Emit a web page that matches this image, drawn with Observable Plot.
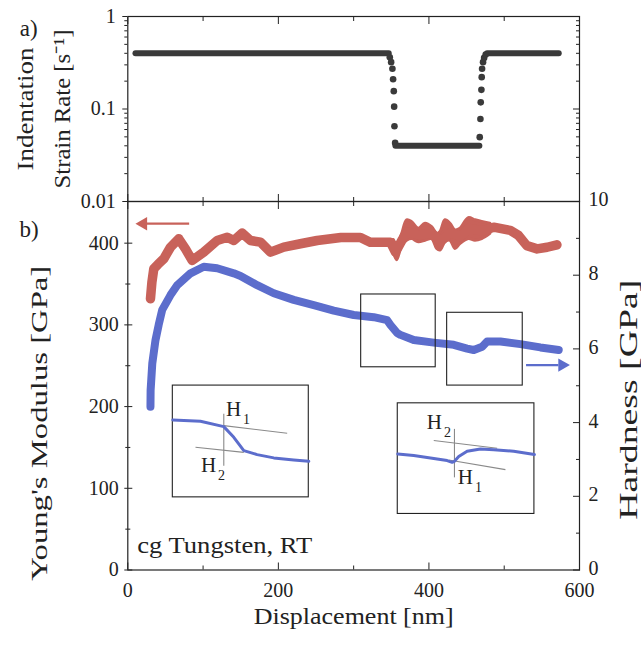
<!DOCTYPE html>
<html><head><meta charset="utf-8">
<script src="https://cdn.jsdelivr.net/npm/d3@7"></script>
<script src="https://cdn.jsdelivr.net/npm/@observablehq/plot@0.6"></script>
<style>
body{margin:0;background:#fff;}
#wrap{position:relative;width:641px;height:646px;overflow:hidden;background:#fff;}
#wrap > svg{position:absolute;left:0;}
</style></head><body><div id="wrap"></div>
<script>
// ---------- Panel a) indentation strain rate ----------
const rateMajor = [0.01, 0.1, 1];
const rateMinor = [0.02,0.03,0.04,0.05,0.06,0.07,0.08,0.09,0.2,0.3,0.4,0.5,0.6,0.7,0.8,0.9];
const xMajor = [0, 200, 400, 600];
const xMinor = [100, 300, 500];
const ratePlateaus = [
  {seg: "high1", x: 10.2, rate: 0.40}, {seg: "high1", x: 346.6, rate: 0.40},
  {seg: "low",   x: 355.5, rate: 0.040}, {seg: "low",  x: 467.0, rate: 0.040},
  {seg: "high2", x: 477.3, rate: 0.40}, {seg: "high2", x: 572.4, rate: 0.40}
];
const dropX = [348.0, 349.8, 351.5, 352.4, 353.3, 353.8, 354.2, 355.1];
const dropRate = [0.363, 0.321, 0.272, 0.210, 0.156, 0.106, 0.065, 0.043];
const riseX = [467.5, 468.4, 468.8, 469.7, 470.1, 470.6, 471.9, 473.3, 475.4];
const riseRate = [0.0496, 0.078, 0.118, 0.161, 0.221, 0.272, 0.321, 0.357, 0.388];

// ---------- Panel b) Young's modulus (left) and hardness (right) ----------
const modTicks = [0, 100, 200, 300, 400];
const modMinor = [50, 150, 250, 350];
const hardTicks = [0, 2, 4, 6, 8, 10];
const hardMinor = [1, 3, 5, 7, 9];
const modX = [30.1,32,34.5,40,47.8,56.7,67.7,76.6,85.5,100.9,118.7,132,140.8,151.9,162.9,176.2,189.5,207.2,229.3,251.5,283,309,322,349,355.5,364.4,371,386.5,404.2,415.3,428.6,441.8,452.9,470.7,486,508,519,530,543.7,557,570];
const modE = [331.9,352,368.6,374,380.9,395,405.4,393,378.8,389,403.3,407.3,403.3,412.3,403.3,401.2,389,395.1,399.3,403.3,407,407,401,401,389,404,414,410,412,402,413,408,418,415,419.6,415.6,409.5,397,393,395,398];
// scatter envelope of the modulus band where it is noisy
const noiseX = [353.3,357.8,364.4,371,377.7,386.5,395.4,404.2,410.9,415.3,421.9,428.6,435.2,441.8,452.9,461.8,470.7,481.7];
const noiseLow = [389,379,397,403,405,401,403,405,393,391,401,403,393,399,405,403,405,411.4];
const noiseHigh = [404,399,411,428,425.7,417.6,423.8,419.6,411.4,413.5,428,423.8,415.6,417.6,430.7,428,425.9,423.8];
const hardX = [30.1,30.3,32.5,36.8,41,45.7,56.7,65.6,83.3,100.9,118.7,140.8,149.7,171.8,193.9,220.4,247.0,273.6,300.1,326.7,344.5,348.9,357.8,362.2,379.8,406.4,433.0,450.7,459.6,470.7,477.3,495.0,521.6,548.1,572.4];
const hardH = [4.43,4.88,5.6,6.24,6.65,7.06,7.46,7.73,8.05,8.23,8.19,8.05,7.98,7.73,7.51,7.33,7.19,7.04,6.92,6.86,6.78,6.65,6.43,6.38,6.24,6.17,6.11,6.01,5.97,6.06,6.20,6.20,6.13,6.04,5.97];
const hardMax = 10, modMax = 451; // right axis 0–10 GPa shares the frame with left axis 0–451 GPa
const zoomBoxes = [{x1: 310, x2: 409, y1: 248.1, y2: 337.2}, {x1: 424.2, x2: 524.6, y1: 225.7, y2: 314.8}];
const insetBoxes = [{x1: 59.8, x2: 240.4, y1: 88.9, y2: 225.7}, {x1: 358.6, x2: 540.1, y1: 68.6, y2: 204.0}];
const inset1X = [59.8, 96.5, 127.5, 140.8, 154.1, 171.8, 193.9, 220.4, 240.4];
const inset1E = [183.7, 182.0, 175.5, 162.4, 146.1, 141.2, 137.2, 134.7, 133.0];
const inset2X = [358.6, 379.8, 402.0, 424.2, 430.8, 433.9, 439.6, 450.7, 468.4, 486.1, 512.6, 540.1];
const inset2E = [142.1, 140.0, 137.2, 133.9, 131.8, 133.0, 138.8, 145.3, 148.2, 147.3, 145.3, 141.3];
const insetGuides = [
  {x1: 127.5, y1: 176.7, x2: 211.7, y2: 167.3}, {x1: 89.9, y1: 150.2, x2: 154.1, y2: 144.0}, {x1: 127.5, y1: 191.3, x2: 127.5, y2: 127.7},
  {x1: 406.4, y1: 158.5, x2: 490.6, y2: 149.0}, {x1: 426.3, y1: 134.7, x2: 501.6, y2: 122.8}, {x1: 433.9, y1: 172.7, x2: 433.9, y2: 113.4}
];
const hLabels = [{x: 140.4, y: 196.3, sub: "1"}, {x: 107.2, y: 127.7, sub: "2"}, {x: 407.3, y: 180.8, sub: "2"}, {x: 448.5, y: 113.4, sub: "1"}];
const modArrow = [{x1: 81.5, x2: 24, e: 423.8, head: 20.5}];
const hardArrow = [{x1: 529, x2: 572, h: 5.56, head: 577}];

const ink = "#222", dark = "#3a3a3a", red = "#c8625a", blue = "#5c6dcc";
const serif = "'Liberation Serif', 'Times New Roman', serif";
const baseStyle = {fontFamily: serif, fontSize: "20px", background: "transparent", color: ink, overflow: "visible"};
const noLab = () => "";

const drops = dropX.map((x, i) => ({x, rate: dropRate[i]})).concat(riseX.map((x, i) => ({x, rate: riseRate[i]})));
const modData = modX.map((x, i) => ({x, e: modE[i]}));
const noiseData = noiseX.map((x, i) => ({x, lo: noiseLow[i], hi: noiseHigh[i]}));
const hardData = hardX.map((x, i) => ({x, h: hardH[i]}));
const k = modMax / hardMax;
const in1 = inset1X.map((x, i) => ({x, e: inset1E[i]}));
const in2 = inset2X.map((x, i) => ({x, e: inset2E[i]}));

const topSvg = Plot.plot({
  width: 641, height: 215,
  marginLeft: 127.3, marginRight: 62, marginTop: 16, marginBottom: 14,
  style: baseStyle,
  x: {domain: [0, 600]},
  y: {type: "log", domain: [0.01, 1]},
  marks: [
    Plot.axisY({anchor: "left", ticks: rateMajor, tickSize: 5, tickPadding: 7, tickFormat: d => String(d), label: null}),
    Plot.axisY({anchor: "left", ticks: rateMinor, tickSize: 3, tickFormat: noLab, label: null}),
    Plot.axisY({anchor: "right", ticks: rateMajor, tickSize: -7, tickFormat: noLab, label: null}),
    Plot.axisY({anchor: "right", ticks: rateMinor, tickSize: -4, tickFormat: noLab, label: null}),
    Plot.axisX({anchor: "top", ticks: xMajor, tickSize: -7, tickFormat: noLab, label: null}),
    Plot.axisX({anchor: "top", ticks: xMinor, tickSize: -4, tickFormat: noLab, label: null}),
    Plot.axisX({anchor: "bottom", ticks: xMajor, tickSize: -7, tickFormat: noLab, label: null}),
    Plot.axisX({anchor: "bottom", ticks: xMinor, tickSize: -4, tickFormat: noLab, label: null}),
    Plot.frame({stroke: ink, strokeWidth: 1.2}),
    Plot.line(ratePlateaus, {x: "x", y: "rate", z: "seg", stroke: dark, strokeWidth: 6, strokeLinecap: "round"}),
    Plot.dot(drops, {x: "x", y: "rate", r: 3.3, fill: dark}),
    Plot.text(["a)"], {frameAnchor: "top-left", dx: -99, dy: 3, fontSize: 23, textAnchor: "middle"}),
    Plot.text(["Indentation"], {frameAnchor: "left", dx: -102.3, rotate: -90, fontSize: 23, textAnchor: "middle"}),
    Plot.text(["Strain Rate [s⁻¹]"], {frameAnchor: "left", dx: -65.5, rotate: -90, fontSize: 23, textAnchor: "middle"})
  ]
});

const botSvg = Plot.plot({
  width: 641, height: 460,
  marginLeft: 127.3, marginRight: 62, marginTop: 15, marginBottom: 76.5,
  style: baseStyle,
  x: {domain: [0, 600]},
  y: {domain: [0, modMax]},
  marks: [
    Plot.axisY({anchor: "left", ticks: modTicks, tickSize: 0, tickPadding: 9, label: null}),
    Plot.axisY({anchor: "left", ticks: modTicks, tickSize: 3, tickFormat: noLab, label: null}),
    Plot.axisY({anchor: "left", ticks: modTicks, tickSize: -5, tickFormat: noLab, label: null}),
    Plot.axisY({anchor: "left", ticks: modMinor, tickSize: 2, tickFormat: noLab, label: null}),
    Plot.axisY({anchor: "left", ticks: modMinor, tickSize: -3, tickFormat: noLab, label: null}),
    Plot.axisY({anchor: "right", ticks: hardTicks.map(h => h * k), tickSize: 0, tickPadding: 9, dy: -1.5, tickFormat: d => String(Math.round(d / k)), label: null}),
    Plot.axisY({anchor: "right", ticks: hardTicks.map(h => h * k), tickSize: -7, tickFormat: noLab, label: null}),
    Plot.axisY({anchor: "right", ticks: hardMinor.map(h => h * k), tickSize: -4, tickFormat: noLab, label: null}),
    Plot.axisX({anchor: "bottom", ticks: xMajor, tickSize: 0, tickPadding: 12.5, label: null}),
    Plot.axisX({anchor: "bottom", ticks: xMajor, tickSize: -7, tickFormat: noLab, label: null}),
    Plot.axisX({anchor: "bottom", ticks: xMinor, tickSize: -4, tickFormat: noLab, label: null}),
    Plot.axisX({anchor: "top", ticks: xMajor, tickSize: -7, tickFormat: noLab, label: null}),
    Plot.axisX({anchor: "top", ticks: xMinor, tickSize: -4, tickFormat: noLab, label: null}),
    Plot.frame({stroke: ink, strokeWidth: 1.2}),
    Plot.areaY(noiseData, {x: "x", y1: "lo", y2: "hi", fill: red, stroke: red, strokeWidth: 3, strokeLinejoin: "round", curve: "catmull-rom"}),
    Plot.line(modData, {x: "x", y: "e", stroke: red, strokeWidth: 9.5, strokeLinejoin: "round", strokeLinecap: "round"}),
    Plot.line(hardData, {x: "x", y: d => d.h * k, stroke: blue, strokeWidth: 8, strokeLinejoin: "round", strokeLinecap: "round"}),
    Plot.rect(zoomBoxes, {x1: "x1", x2: "x2", y1: "y1", y2: "y2", fill: "none", stroke: ink, strokeWidth: 1.1}),
    Plot.rect(insetBoxes, {x1: "x1", x2: "x2", y1: "y1", y2: "y2", fill: "white", stroke: ink, strokeWidth: 1.1}),
    Plot.link(insetGuides, {x1: "x1", y1: "y1", x2: "x2", y2: "y2", stroke: "#8a8a8a", strokeWidth: 1.1}),
    Plot.line(in1, {x: "x", y: "e", stroke: blue, strokeWidth: 3}),
    Plot.line(in2, {x: "x", y: "e", stroke: blue, strokeWidth: 3}),
    Plot.text(hLabels, {x: "x", y: "y", text: () => "H", fontSize: 21}),
    Plot.text(hLabels, {x: "x", y: "y", text: "sub", fontSize: 14, dx: 13, dy: 10}),
    Plot.link(modArrow, {x1: "x1", x2: "x2", y1: "e", y2: "e", stroke: red, strokeWidth: 2.2}),
    Plot.dot(modArrow, {x: "head", y: "e", symbol: "triangle", r: 5, rotate: -90, fill: red, stroke: "none"}),
    Plot.link(hardArrow, {x1: "x1", x2: "x2", y1: d => d.h * k, y2: d => d.h * k, stroke: blue, strokeWidth: 2.2}),
    Plot.dot(hardArrow, {x: "head", y: d => d.h * k, symbol: "triangle", r: 5, rotate: 90, fill: blue, stroke: "none"}),
    Plot.text(["cg Tungsten, RT"], {x: () => 12.5, y: () => 29.8, textAnchor: "start", fontSize: 23}),
    Plot.text(["b)"], {frameAnchor: "top-left", dx: -98.8, dy: 19, fontSize: 23, textAnchor: "middle"}),
    Plot.text(["Young's Modulus [GPa]"], {frameAnchor: "left", dx: -88.3, dy: 37.5, rotate: -90, fontSize: 24, textAnchor: "middle"}),
    Plot.text(["Hardness [GPa]"], {frameAnchor: "right", dx: 49, dy: 14, rotate: -90, fontSize: 25, textAnchor: "middle"}),
    Plot.text(["Displacement [nm]"], {frameAnchor: "bottom", dy: 53.5, fontSize: 24, textAnchor: "middle"})
  ]
});

const stretch = {"Indentation": 123, "Strain Rate [s⁻¹]": 159, "Young's Modulus [GPa]": 315, "Hardness [GPa]": 240, "Displacement [nm]": 200, "cg Tungsten, RT": 175};
for (const svg of [topSvg, botSvg]) {
  svg.querySelectorAll("text").forEach(t => {
    const L = stretch[t.textContent];
    if (L) { t.setAttribute("textLength", L); t.setAttribute("lengthAdjust", "spacingAndGlyphs"); }
  });
}
const wrap = document.getElementById("wrap");
topSvg.style.top = "0px";
botSvg.style.top = "186px";
wrap.appendChild(topSvg);
wrap.appendChild(botSvg);
</script></body></html>
